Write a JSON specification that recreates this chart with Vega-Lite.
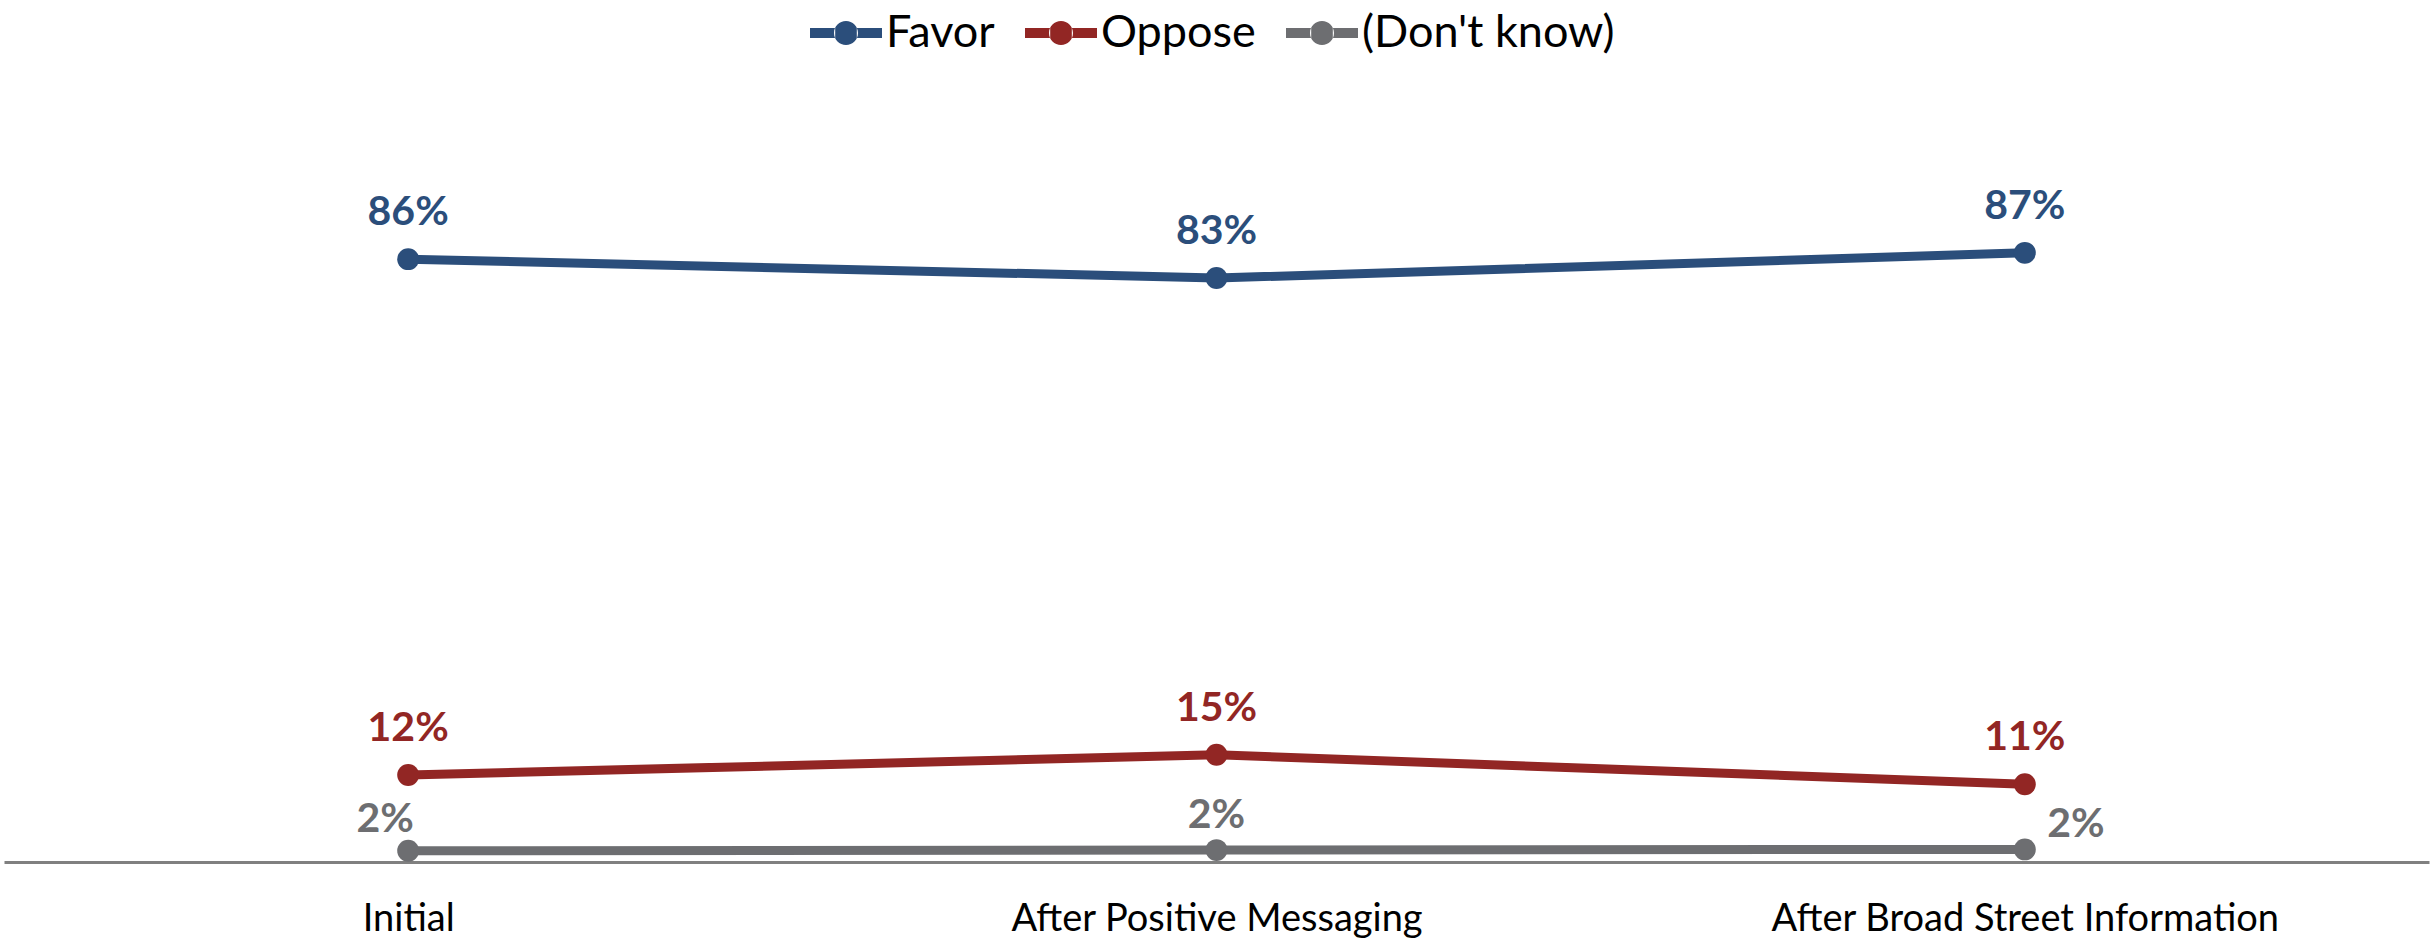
{
  "$schema": "https://vega.github.io/schema/vega-lite/v6.json",
  "width": 2425,
  "height": 701,
  "autosize": {"type": "none"},
  "padding": {"left": 4, "top": 161, "right": 4, "bottom": 81},
  "background": "white",
  "config": {"view": {"stroke": null}, "font": "Lato"},
  "data": {
    "values": [
      {"stage": "Initial", "series": "Favor", "value": 0.86},
      {"stage": "After Positive Messaging", "series": "Favor", "value": 0.833},
      {"stage": "After Broad Street Information", "series": "Favor", "value": 0.869},
      {"stage": "Initial", "series": "Oppose", "value": 0.124},
      {"stage": "After Positive Messaging", "series": "Oppose", "value": 0.153},
      {"stage": "After Broad Street Information", "series": "Oppose", "value": 0.111},
      {"stage": "Initial", "series": "(Don't know)", "value": 0.016},
      {"stage": "After Positive Messaging", "series": "(Don't know)", "value": 0.017},
      {"stage": "After Broad Street Information", "series": "(Don't know)", "value": 0.018}
    ]
  },
  "encoding": {
    "x": {
      "field": "stage",
      "type": "nominal",
      "sort": ["Initial", "After Positive Messaging", "After Broad Street Information"],
      "scale": {"type": "point", "padding": 0.5},
      "axis": {
        "title": null,
        "labelAngle": 0,
        "labelFont": "Lato",
        "labelFontSize": 38,
        "labelColor": "#000000",
        "labelLimit": 1200,
        "labelOverlap": false,
        "domainColor": "#808080",
        "domainWidth": 3,
        "ticks": false,
        "tickSize": 0,
        "labelPadding": 68,
        "labelBaseline": "alphabetic",
        "grid": false
      }
    },
    "y": {
      "field": "value",
      "type": "quantitative",
      "scale": {"domain": [0, 1], "nice": false, "zero": true},
      "axis": null
    },
    "color": {
      "field": "series",
      "type": "nominal",
      "scale": {
        "domain": ["Favor", "Oppose", "(Don't know)"],
        "range": ["#2B4E7B", "#922624", "#6D6E71"]
      },
      "legend": {
        "title": null,
        "orient": "none",
        "legendX": 806,
        "legendY": -164,
        "direction": "horizontal",
        "symbolType": "M-1,-0.14 H-0.3 V0.14 H-1 Z M0.3,-0.14 H1 V0.14 H0.3 Z M-0.333,0 A0.333,0.333 0 1,0 0.333,0 A0.333,0.333 0 1,0 -0.333,0 Z",
        "symbolSize": 5184,
        "symbolStrokeWidth": 0,
        "symbolOpacity": 1,
        "labelFont": "Lato",
        "labelFontSize": 45,
        "labelColor": "#000000",
        "labelOffset": 4,
        "labelLimit": 600,
        "columnPadding": 30,
        "padding": 0,
        "encode": {
          "symbols": {
            "update": {
              "fill": {"scale": "color", "field": "value"},
              "strokeWidth": {"value": 0},
              "opacity": {"value": 1}
            }
          }
        }
      }
    }
  },
  "layer": [
    {"mark": {"type": "line", "strokeWidth": 9}},
    {"mark": {"type": "point", "filled": true, "size": 480, "opacity": 1}},
    {
      "transform": [{"filter": {"field": "series", "oneOf": ["Favor", "Oppose"]}}],
      "mark": {"type": "text", "fontSize": 41, "fontWeight": "bold", "font": "Lato", "align": "center", "baseline": "alphabetic", "dy": -34},
      "encoding": {"text": {"field": "value", "type": "quantitative", "format": ".0%"}}
    },
    {
      "transform": [{"filter": {"and": [{"field": "series", "equal": "(Don't know)"}, {"field": "stage", "equal": "Initial"}]}}],
      "mark": {"type": "text", "fontSize": 41, "fontWeight": "bold", "font": "Lato", "align": "center", "baseline": "alphabetic", "dx": -23, "dy": -19},
      "encoding": {"text": {"field": "value", "type": "quantitative", "format": ".0%"}}
    },
    {
      "transform": [{"filter": {"and": [{"field": "series", "equal": "(Don't know)"}, {"field": "stage", "equal": "After Positive Messaging"}]}}],
      "mark": {"type": "text", "fontSize": 41, "fontWeight": "bold", "font": "Lato", "align": "center", "baseline": "alphabetic", "dy": -22},
      "encoding": {"text": {"field": "value", "type": "quantitative", "format": ".0%"}}
    },
    {
      "transform": [{"filter": {"and": [{"field": "series", "equal": "(Don't know)"}, {"field": "stage", "equal": "After Broad Street Information"}]}}],
      "mark": {"type": "text", "fontSize": 41, "fontWeight": "bold", "font": "Lato", "align": "center", "baseline": "alphabetic", "dx": 51, "dy": -12},
      "encoding": {"text": {"field": "value", "type": "quantitative", "format": ".0%"}}
    }
  ]
}
